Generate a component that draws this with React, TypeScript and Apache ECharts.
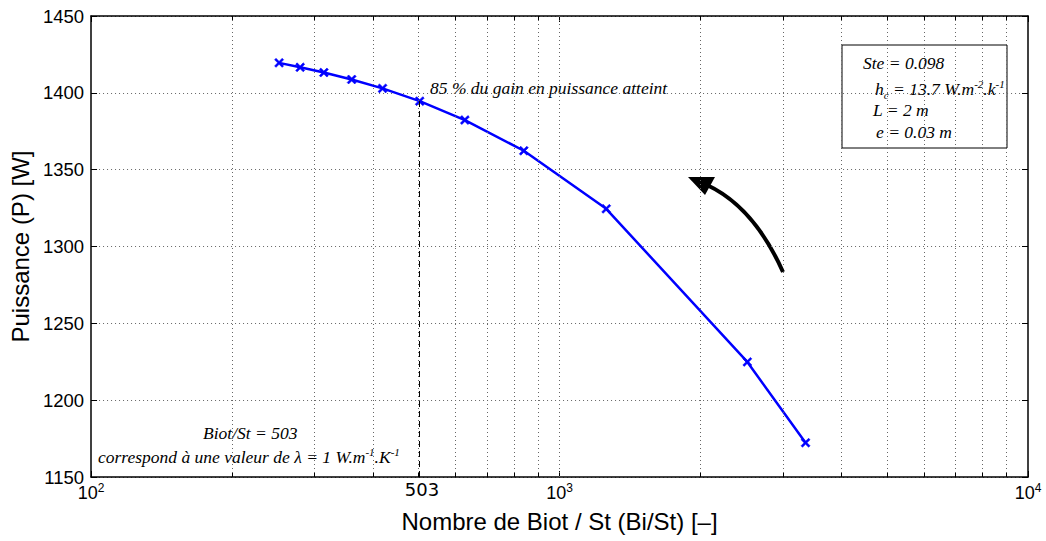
import { useEffect, useRef } from 'react';
import * as echarts from 'echarts';

// ---- data ----
const biotSt = [252, 279.5, 314, 360, 419, 503, 628, 839, 1258, 2517, 3351];
const power = [1419.5, 1416.6, 1413.2, 1408.7, 1402.9, 1394.6, 1382.3, 1362.3, 1324.5, 1224.9, 1172.3];
const gridX = [200, 300, 400, 500, 600, 700, 800, 900, 1000, 2000, 3000, 4000, 5000, 6000, 7000, 8000, 9000];
const minorTickX = [200, 300, 400, 500, 600, 700, 800, 900, 2000, 3000, 4000, 5000, 6000, 7000, 8000, 9000];
const yMin = 1150;
const yMax = 1450;
const yStep = 50;
const xMin = 100;
const xMax = 10000;
const markedBiot = 503;
const markedPower = 1394.6;

const sans = 'Liberation Sans, Arial, Helvetica, sans-serif';
const serif = 'Liberation Serif, Times New Roman, serif';
const annoSize = 17.5;

const crossPath = 'path://M0,1.6L1.6,0L5,3.4L8.4,0L10,1.6L6.6,5L10,8.4L8.4,10L5,6.6L1.6,10L0,8.4L3.4,5Z';

const richSerif = (size: number) => ({
  t: { fontFamily: serif, fontStyle: 'italic', fontSize: size, lineHeight: 22, color: '#000' },
  sup: { fontFamily: serif, fontStyle: 'italic', fontSize: 11, lineHeight: 11, verticalAlign: 'top', color: '#000' },
  sub: { fontFamily: serif, fontStyle: 'italic', fontSize: 11, lineHeight: 11, verticalAlign: 'bottom', color: '#000' },
});

export default function App() {
  const ref = useRef<HTMLDivElement>(null);
  useEffect(() => {
    const chart = echarts.init(ref.current!, null, { renderer: 'svg' });
    const tickLen = 2.6;
    const tickPairs: any[] = [];
    minorTickX.forEach((v) => {
      tickPairs.push([{ coord: [v, yMin] }, { coord: [v, yMin + tickLen] }]);
      tickPairs.push([{ coord: [v, yMax] }, { coord: [v, yMax - tickLen] }]);
    });
    const plainText = (text: string, x: number, y: number) => ({
      type: 'text',
      x,
      y,
      style: { text, fontFamily: serif, fontStyle: 'italic', fontSize: annoSize, fill: '#000', verticalAlign: 'middle' },
    });
    const option: any = {
      animation: false,
      backgroundColor: '#fff',
      grid: { left: 90, right: 18, top: 16, bottom: 64, containLabel: false },
      xAxis: [
        {
          type: 'log',
          logBase: 10,
          min: xMin,
          max: xMax,
          name: 'Nombre de Biot / St (Bi/St) [–]',
          nameLocation: 'middle',
          nameGap: 32,
          nameTextStyle: { fontFamily: sans, fontSize: 24, color: '#000' },
          axisLine: { show: true, lineStyle: { color: '#000', width: 1.5 } },
          axisTick: { show: true, inside: true, length: 6, lineStyle: { color: '#000' } },
          axisLabel: {
            margin: 5,
            formatter: (v: number) => `{b|10}{s|${Math.round(Math.log10(v))}}`,
            rich: {
              b: { fontFamily: sans, fontSize: 18, color: '#000', lineHeight: 22 },
              s: { fontFamily: sans, fontSize: 12, color: '#000', lineHeight: 12, verticalAlign: 'top' },
            },
          },
          splitLine: { show: false },
          minorTick: { show: false },
        },
        {
          type: 'log',
          logBase: 10,
          min: xMin,
          max: xMax,
          position: 'top',
          axisLine: { show: true, lineStyle: { color: '#000', width: 1.5 } },
          axisTick: { show: true, inside: true, length: 6, lineStyle: { color: '#000' } },
          axisLabel: { show: false },
          splitLine: { show: false },
        },
      ],
      yAxis: [
        {
          type: 'value',
          min: yMin,
          max: yMax,
          interval: yStep,
          name: 'Puissance (P) [W]',
          nameLocation: 'middle',
          nameGap: 54,
          nameTextStyle: { fontFamily: sans, fontSize: 24, color: '#000' },
          axisLine: { show: true, lineStyle: { color: '#000', width: 1.5 } },
          axisTick: { show: true, inside: true, length: 6, lineStyle: { color: '#000' } },
          axisLabel: { fontFamily: sans, fontSize: 18.5, color: '#000', margin: 7, formatter: (v: number) => String(v) },
          splitLine: { show: true, lineStyle: { color: '#666', type: [1, 3], width: 1 } },
        },
        {
          type: 'value',
          min: yMin,
          max: yMax,
          interval: yStep,
          position: 'right',
          axisLine: { show: true, lineStyle: { color: '#000', width: 1.5 } },
          axisTick: { show: true, inside: true, length: 6, lineStyle: { color: '#000' } },
          axisLabel: { show: false },
          splitLine: { show: false },
        },
      ],
      series: [
        {
          type: 'line',
          name: 'grid',
          data: [],
          silent: true,
          z: 1,
          markLine: {
            silent: true,
            symbol: ['none', 'none'],
            label: { show: false },
            lineStyle: { color: '#666', type: [1, 3], width: 1 },
            data: gridX.map((v) => ({ xAxis: v })),
          },
        },
        {
          type: 'line',
          name: 'ticks',
          data: [],
          silent: true,
          z: 1,
          markLine: {
            silent: true,
            symbol: ['none', 'none'],
            label: { show: false },
            lineStyle: { color: '#000', type: 'solid', width: 1 },
            data: tickPairs,
          },
        },
        {
          type: 'line',
          name: 'Puissance',
          data: biotSt.map((x, i) => [x, power[i]]),
          symbol: crossPath,
          symbolSize: 9,
          showSymbol: true,
          z: 3,
          lineStyle: { color: '#0000ff', width: 2.5 },
          itemStyle: { color: '#0000ff', borderColor: '#0000ff', borderWidth: 0.6 },
          markLine: {
            silent: true,
            symbol: ['none', 'none'],
            label: { show: false },
            lineStyle: { color: '#000', type: [6, 4], width: 1 },
            data: [[{ coord: [markedBiot, yMin] }, { coord: [markedBiot, markedPower] }]],
          },
        },
      ],
      graphic: [
        {
          type: 'text',
          x: 422,
          y: 489,
          style: { text: String(markedBiot), fontFamily: 'DejaVu Sans, sans-serif', fontSize: 18, fill: '#000', align: 'center', verticalAlign: 'middle' },
        },
        plainText('85 % du gain en puissance atteint', 430, 88),
        {
          type: 'rect',
          shape: { x: 842, y: 45, width: 165, height: 103 },
          style: { fill: 'none', stroke: '#000', lineWidth: 1 },
        },
        plainText('Ste = 0.098', 863, 63),
        {
          type: 'text',
          x: 875,
          y: 89,
          style: {
            text: '{t|h}{sub|c}{t| = 13.7 W.m}{sup|-2}{t|.k}{sup|-1}',
            rich: richSerif(annoSize),
            verticalAlign: 'middle',
          },
        },
        plainText('L = 2 m', 873, 110),
        plainText('e = 0.03 m', 876, 132),
        plainText('Biot/St = 503', 203, 433),
        {
          type: 'text',
          x: 98,
          y: 457,
          style: {
            text: '{t|correspond à une valeur de λ = 1 W.m}{sup|-1}{t|.K}{sup|-1}',
            rich: richSerif(annoSize),
            verticalAlign: 'middle',
          },
        },
        {
          type: 'bezierCurve',
          shape: { x1: 783, y1: 272, cpx1: 754, cpy1: 207, x2: 707, y2: 185 },
          style: { stroke: '#000', lineWidth: 4, fill: 'none' },
        },
        {
          type: 'polygon',
          shape: { points: [[688, 177], [715, 177], [705, 195]] },
          style: { fill: '#000', stroke: 'none' },
        },
      ],
    };
    chart.setOption(option);
    return () => chart.dispose();
  }, []);
  return (
    <div
      ref={ref}
      style={{ position: 'fixed', left: 0, top: 0, width: 1046, height: 541, background: '#fff' }}
    />
  );
}
